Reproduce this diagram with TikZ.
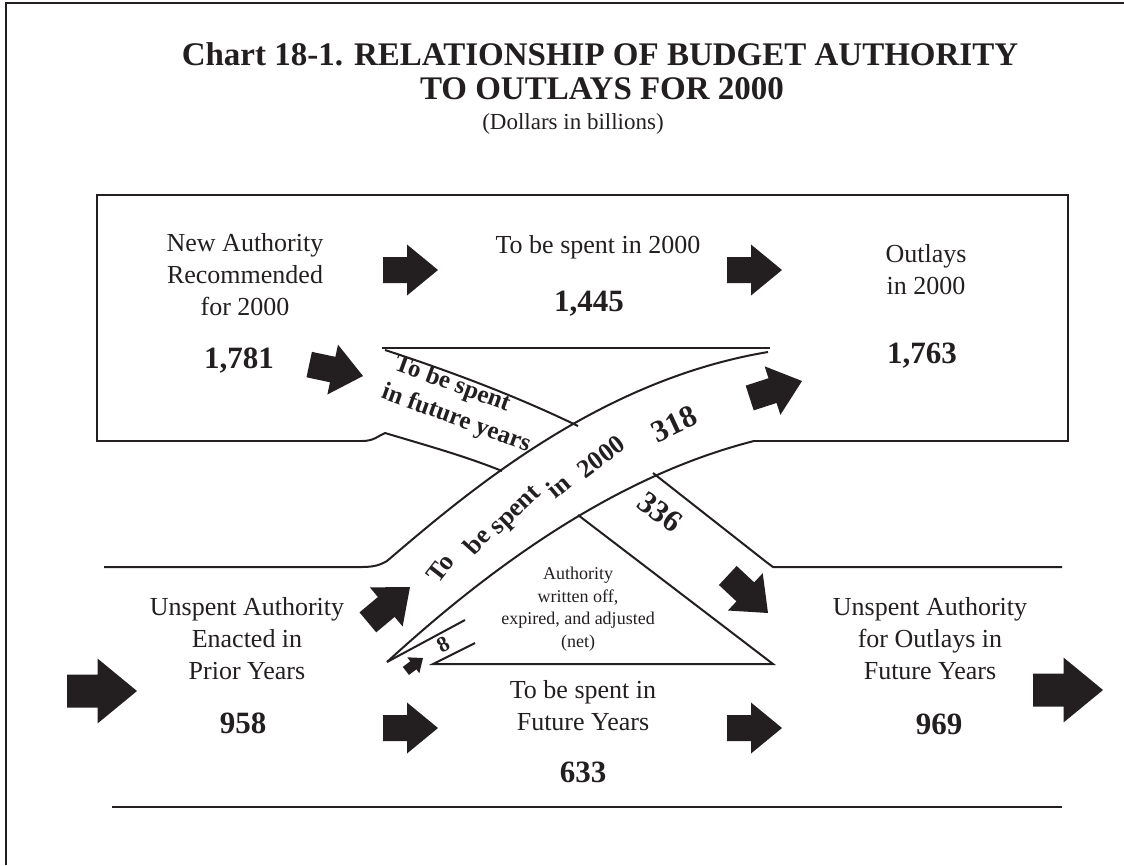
\documentclass[tikz,border=0pt]{standalone}
\usepackage{fontspec}
\setmainfont{Liberation Serif}
\definecolor{ink}{HTML}{231F20}
\begin{document}
\begin{tikzpicture}[x=1pt,y=-1pt,
  body/.style={font=\fontsize{26}{32}\selectfont, align=center, inner sep=0pt, text=ink},
  num/.style={font=\bfseries\fontsize{31}{36}\selectfont, inner sep=0pt, anchor=base, text=ink},
  rnum/.style={font=\bfseries\fontsize{31}{36}\selectfont, inner sep=0pt, text=ink},
  ribA/.style={font=\bfseries\fontsize{25}{30}\selectfont, inner sep=0pt, text=ink},
  ribB/.style={font=\bfseries\fontsize{26}{30}\selectfont, inner sep=0pt, text=ink},
  note/.style={font=\fontsize{18}{22.5}\selectfont, align=center, inner sep=0pt, text=ink},
  titletxt/.style={font=\bfseries\fontsize{33}{38}\selectfont, inner sep=0pt, anchor=base, text=ink},
  frameline/.style={line width=2.2pt, draw=ink},
  boxline/.style={line width=2.4pt, draw=ink},
  ribline/.style={line width=2pt, draw=ink},
  fatarrow/.pic={\fill[ink] (0,0) -- (-31,25.5) -- (-31,13) -- (-55,13) -- (-55,-13) -- (-31,-13) -- (-31,-25.5) -- cycle;}
]
\useasboundingbox (0,0) rectangle (1124,865);
% frame (left and top only)
\draw[frameline] (6,865) -- (6,3) -- (1124,3);
% upper box
\draw[boxline] (362,441) -- (97,441) -- (97,195) -- (1068,195) -- (1068,441) -- (754,441);
\draw[boxline] (382,348) -- (770,348);
% ribbon A (to be spent in future years)
\draw[ribline] (362,441) .. controls (374,441) and (378,436) .. (385,433) .. controls (425,445) and (465,456) .. (502,471);
\draw[ribline] (385,350) .. controls (440,368) and (510,393) .. (578,426);
% ribbon B (to be spent in 2000)
\draw[ribline] (104,567) -- (362,567) .. controls (374,567) and (380,565) .. (387,561) .. controls (470,490) and (600,380) .. (768,352);
\draw[ribline] (754,441) .. controls (640,470) and (520,540) .. (387,662);
% ribbon A continued below B
\draw[ribline] (653,473) -- (765,561) -- (773,567) -- (1062,567);
\draw[ribline] (578,515) -- (773,664) -- (433,664) -- (475,643);
\draw[ribline] (387,662) -- (465,620);
% lower rule
\draw[boxline] (112,807) -- (1062,807);

% titles
\node[titletxt] (t1) at (600,65) {Chart 18-1. RELATIONSHIP OF BUDGET AUTHORITY};
\node[titletxt] (t2) at (602,99) {TO OUTLAYS FOR 2000};
\node[font=\fontsize{23}{26}\selectfont, inner sep=0pt, anchor=base, text=ink] (t3) at (573,129.5) {(Dollars in billions)};

% upper texts
\node[body] (newa) at (245,275) {New Authority\\Recommended\\for 2000};
\node[num] (n1781) at (239,368.5) {1,781};
\node[body, anchor=base] (spent00) at (598,253) {To be spent in 2000};
\node[num] (n1445) at (589,311.5) {1,445};
\node[body] (outl) at (926,269.5) {Outlays\\in 2000};
\node[num] (n1763) at (922,363) {1,763};

% lower texts
\node[body] (unsp) at (247,638.5) {Unspent Authority\\Enacted in\\Prior Years};
\node[num] (n958) at (243,733) {958};
\node[body] (fut) at (583,706) {To be spent in\\Future Years};
\node[num] (n633) at (583,782) {633};
\node[body] (unspf) at (930,638.5) {Unspent Authority\\for Outlays in\\Future Years};
\node[num] (n969) at (939,734) {969};
\node[note] (wo) at (578,609) {Authority\\written off,\\expired, and adjusted\\(net)};

% ribbon labels
\node[ribA, rotate=-20] (ra1) at (452,385) {To be spent};
\node[ribA, rotate=-20] (ra2) at (456,419) {in future years};
\node[ribB, rotate=52] (rb1) at (440,568) {To};
\node[ribB, rotate=48] (rb2) at (477,541) {be};
\node[ribB, rotate=44] (rb3) at (517,512) {spent};
\node[ribB, rotate=40] (rb4) at (558,486) {in};
\node[ribB, rotate=37] (rb5) at (601,457) {2000};
\node[rnum, rotate=25] (n318) at (674,424) {318};
\node[rnum, rotate=-37] (n336) at (660,512) {336};
\node[font=\bfseries\fontsize{22}{24}\selectfont, inner sep=0pt, rotate=28, text=ink] (n8) at (443,645) {8};

% arrows
\pic at (438,270) {fatarrow};
\pic at (782,270) {fatarrow};
\pic[rotate=-12] at (363,376) {fatarrow};
\pic[rotate=18] at (802,381) {fatarrow};
\pic[rotate=40] at (410,587) {fatarrow};
\pic[rotate=-43] at (768,613) {fatarrow};
\pic[rotate=37, scale=0.39] at (423,658) {fatarrow};
\pic at (438,728) {fatarrow};
\pic at (782,728) {fatarrow};
\pic[scale=1.27] at (137,691) {fatarrow};
\pic[scale=1.27] at (1103,690) {fatarrow};
\end{tikzpicture}
\end{document}
